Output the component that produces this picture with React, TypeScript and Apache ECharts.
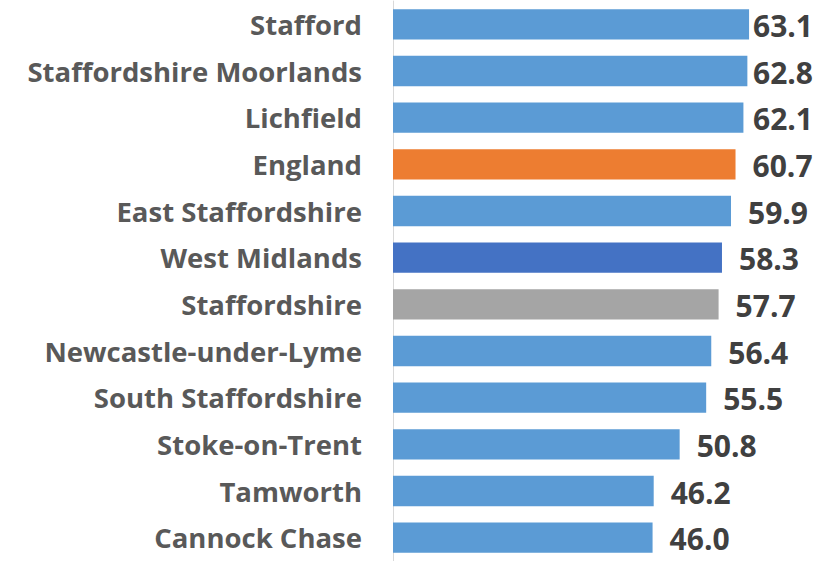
import React, { useEffect, useRef } from "react";
import * as echarts from "echarts";

const categories = [
  "Stafford",
  "Staffordshire Moorlands",
  "Lichfield",
  "England",
  "East Staffordshire",
  "West Midlands",
  "Staffordshire",
  "Newcastle-under-Lyme",
  "South Staffordshire",
  "Stoke-on-Trent",
  "Tamworth",
  "Cannock Chase",
];
const values = [63.1, 62.8, 62.1, 60.7, 59.9, 58.3, 57.7, 56.4, 55.5, 50.8, 46.2, 46.0];
const barColors = [
  "#5B9BD5", "#5B9BD5", "#5B9BD5", "#ED7D31", "#5B9BD5", "#4472C4",
  "#A5A5A5", "#5B9BD5", "#5B9BD5", "#5B9BD5", "#5B9BD5", "#5B9BD5",
];

export default function App() {
  const ref = useRef<HTMLDivElement>(null);
  useEffect(() => {
    if (!ref.current) return;
    const chart = echarts.init(ref.current, null, { renderer: "svg" });
    const labelWidth = 59;
    const rightLimit = 812;
    const build = (dists: number[]) => ({
      animation: false,
      grid: { left: 393, top: 1, width: 395, height: 568, containLabel: false },
      xAxis: {
        type: "value",
        min: 0,
        max: 70,
        show: false,
      },
      yAxis: {
        type: "category",
        data: categories,
        inverse: true,
        axisLine: { show: true, lineStyle: { color: "#D9D9D9", width: 1 } },
        axisTick: { show: false },
        axisLabel: {
          margin: 31,
          color: "#595959",
          fontFamily: "Open Sans",
          fontWeight: "bold",
          fontSize: 27.5,
        },
      },
      series: [
        {
          type: "bar",
          data: values.map((v, i) => ({
            value: v,
            itemStyle: { color: barColors[i] },
            label: { distance: dists[i] },
          })),
          barCategoryGap: "35%",
          label: {
            show: true,
            position: "right",
            distance: 17,
            color: "#404040",
            fontFamily: "Open Sans",
            fontWeight: "bold",
            fontSize: 30,
            offset: [0, 1],
            formatter: (p: any) => Number(p.value).toFixed(1),
          },
        },
      ],
    });
    chart.setOption(build(values.map(() => 17)));
    const dists = values.map((v) => {
      const px = chart.convertToPixel({ gridIndex: 0 }, [v, 0])[0];
      return Math.max(3, Math.min(17, rightLimit - labelWidth - px));
    });
    chart.setOption(build(dists));
    return () => chart.dispose();
  }, []);
  return <div ref={ref} style={{ width: 825, height: 561, position: "absolute", left: 0, top: 0 }} />;
}
